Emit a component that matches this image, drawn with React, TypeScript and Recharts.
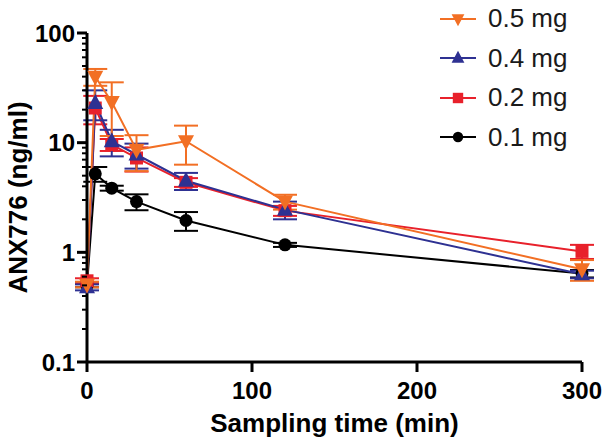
import React from 'react';
import { LineChart, Line, XAxis, YAxis, ErrorBar, Legend } from 'recharts';

// sampling times (min)
const times = [0, 5, 15, 30, 60, 120, 300];

// mean concentration (ng/ml) and SD per dose
const dose01 = [0.5, 5.2, 3.85, 2.9, 1.95, 1.17, 0.64];
const dose01Sd = [0.02, 0.8, 0.2, 0.48, 0.38, 0.05, 0.05];
const dose02 = [0.55, 20.7, 9.6, 7.25, 4.35, 2.4, 1.02];
const dose02Sd = [0.03, 6, 1.2, 1.8, 0.4, 0.25, 0.15];
const dose04 = [0.48, 23, 10.3, 7.8, 4.5, 2.45, 0.63];
const dose04Sd = [0.03, 7, 2.8, 2.0, 0.8, 0.45, 0.05];
const dose05 = [0.51, 40, 23.5, 8.6, 10.3, 2.9, 0.7];
const dose05Sd = [0.03, 7, 12, 3.1, 4.0, 0.45, 0.15];

const xTicks = [0, 100, 200, 300];
const yTicks = [
  0.1, 0.2, 0.3, 0.4, 0.5, 0.6, 0.7, 0.8, 0.9,
  1, 2, 3, 4, 5, 6, 7, 8, 9,
  10, 20, 30, 40, 50, 60, 70, 80, 90, 100,
];
const yMajor = [0.1, 1, 10, 100];
const yMajorLabels = ['0.1', '1', '10', '100'];

const FONT = '"Liberation Sans", Arial, Helvetica, sans-serif';

type Shape = 'circle' | 'square' | 'up' | 'down';

// drawing order: black, red, blue, orange (orange on top)
const series = [
  { key: 'd01', name: '0.1 mg', color: '#000000', shape: 'circle' as Shape, values: dose01, sd: dose01Sd },
  { key: 'd02', name: '0.2 mg', color: '#E8212B', shape: 'square' as Shape, values: dose02, sd: dose02Sd },
  { key: 'd04', name: '0.4 mg', color: '#2E3192', shape: 'up' as Shape, values: dose04, sd: dose04Sd },
  { key: 'd05', name: '0.5 mg', color: '#F26F24', shape: 'down' as Shape, values: dose05, sd: dose05Sd },
];

const data = times.map((t, i) => {
  const row: Record<string, number> = { t };
  series.forEach(s => {
    row[s.key] = s.values[i];
    row[s.key + 'Sd'] = s.sd[i];
  });
  return row;
});

const Marker = ({ shape, color, x, y, s = 1 }: { shape: Shape; color: string; x: number; y: number; s?: number }) => {
  if (shape === 'circle') return <circle cx={x} cy={y} r={6.5 * s} fill={color} />;
  if (shape === 'square') {
    const h = 6.5 * s;
    return <rect x={x - h} y={y - h} width={2 * h} height={2 * h} fill={color} />;
  }
  const w = 8 * s;
  const h = 7.5 * s;
  if (shape === 'up') {
    return <polygon points={`${x - w},${y + h * 0.8} ${x + w},${y + h * 0.8} ${x},${y - h * 1.2}`} fill={color} />;
  }
  return <polygon points={`${x - w},${y - h * 0.8} ${x + w},${y - h * 0.8} ${x},${y + h * 1.2}`} fill={color} />;
};

const makeDot = (shape: Shape, color: string) => (props: any) => {
  const { cx, cy, index } = props;
  if (cx == null || cy == null) return <g key={index} />;
  return <Marker key={index} shape={shape} color={color} x={cx} y={cy} />;
};

const Y_TICK_SIZE = 10;
const Y_TICK_MARGIN = 1;

const YTick = (props: any) => {
  const { x, y, payload } = props;
  const axisX = x + Y_TICK_SIZE + Y_TICK_MARGIN;
  const idx = yMajor.indexOf(payload.value);
  const major = idx >= 0;
  return (
    <g>
      <line x1={axisX - (major ? 10 : 5)} x2={axisX} y1={y} y2={y} stroke="#000" strokeWidth={major ? 3 : 2} />
      {major && (
        <text x={axisX - 12} y={y} dy="0.36em" textAnchor="end" fontFamily={FONT} fontWeight="bold" fontSize={24} fill="#000">
          {yMajorLabels[idx]}
        </text>
      )}
    </g>
  );
};

const renderLegend = () => (
  <div style={{ fontFamily: FONT, fontSize: 26, color: '#1a1a1a' }}>
    {[...series].reverse().map(s => (
      <div key={s.key} style={{ display: 'flex', alignItems: 'center', height: 39.5 }}>
        <svg width={36} height={20}>
          <line x1={0} x2={36} y1={10} y2={10} stroke={s.color} strokeWidth={2} />
          <Marker shape={s.shape} color={s.color} x={18} y={10} s={0.8} />
        </svg>
        <span style={{ marginLeft: 12 }}>{s.name}</span>
      </div>
    ))}
  </div>
);

export default function App() {
  return (
    <div style={{ position: 'absolute', left: 0, top: 0, background: '#fff' }}>
      <LineChart width={606} height={444} data={data} margin={{ top: 33, right: 24, bottom: 0, left: 0 }}>
        <XAxis
          dataKey="t"
          type="number"
          domain={[0, 300]}
          ticks={xTicks}
          height={82}
          axisLine={{ stroke: '#000', strokeWidth: 3 }}
          tickLine={{ stroke: '#000', strokeWidth: 3 }}
          tickSize={10}
          tickMargin={10}
          tick={{ fill: '#000', fontFamily: FONT, fontWeight: 'bold', fontSize: 24 }}
          label={{
            value: 'Sampling time (min)',
            position: 'insideBottom',
            offset: 12,
            style: { fill: '#000', fontFamily: FONT, fontWeight: 'bold', fontSize: 26 },
          }}
        />
        <YAxis
          scale="log"
          domain={[0.1, 100]}
          ticks={yTicks}
          interval={0}
          allowDataOverflow
          width={87}
          axisLine={{ stroke: '#000', strokeWidth: 3 }}
          tickLine={false}
          tickSize={Y_TICK_SIZE}
          tickMargin={Y_TICK_MARGIN}
          tick={<YTick />}
          label={{
            value: 'ANX776 (ng/ml)',
            angle: -90,
            position: 'insideLeft',
            offset: 18,
            style: { fill: '#000', fontFamily: FONT, fontWeight: 'bold', fontSize: 26, textAnchor: 'middle' },
          }}
        />
        <Legend
          layout="vertical"
          align="center"
          verticalAlign="middle"
          content={renderLegend}
          wrapperStyle={{ left: 440, top: -1, width: 166 }}
        />
        {series.map(s => (
          <Line
            key={s.key}
            dataKey={s.key}
            name={s.name}
            stroke={s.color}
            strokeWidth={2}
            type="linear"
            dot={makeDot(s.shape, s.color)}
            activeDot={false}
            isAnimationActive={false}
          >
            <ErrorBar dataKey={s.key + 'Sd'} width={12} strokeWidth={2} stroke={s.color} direction="y" />
          </Line>
        ))}
      </LineChart>
    </div>
  );
}
